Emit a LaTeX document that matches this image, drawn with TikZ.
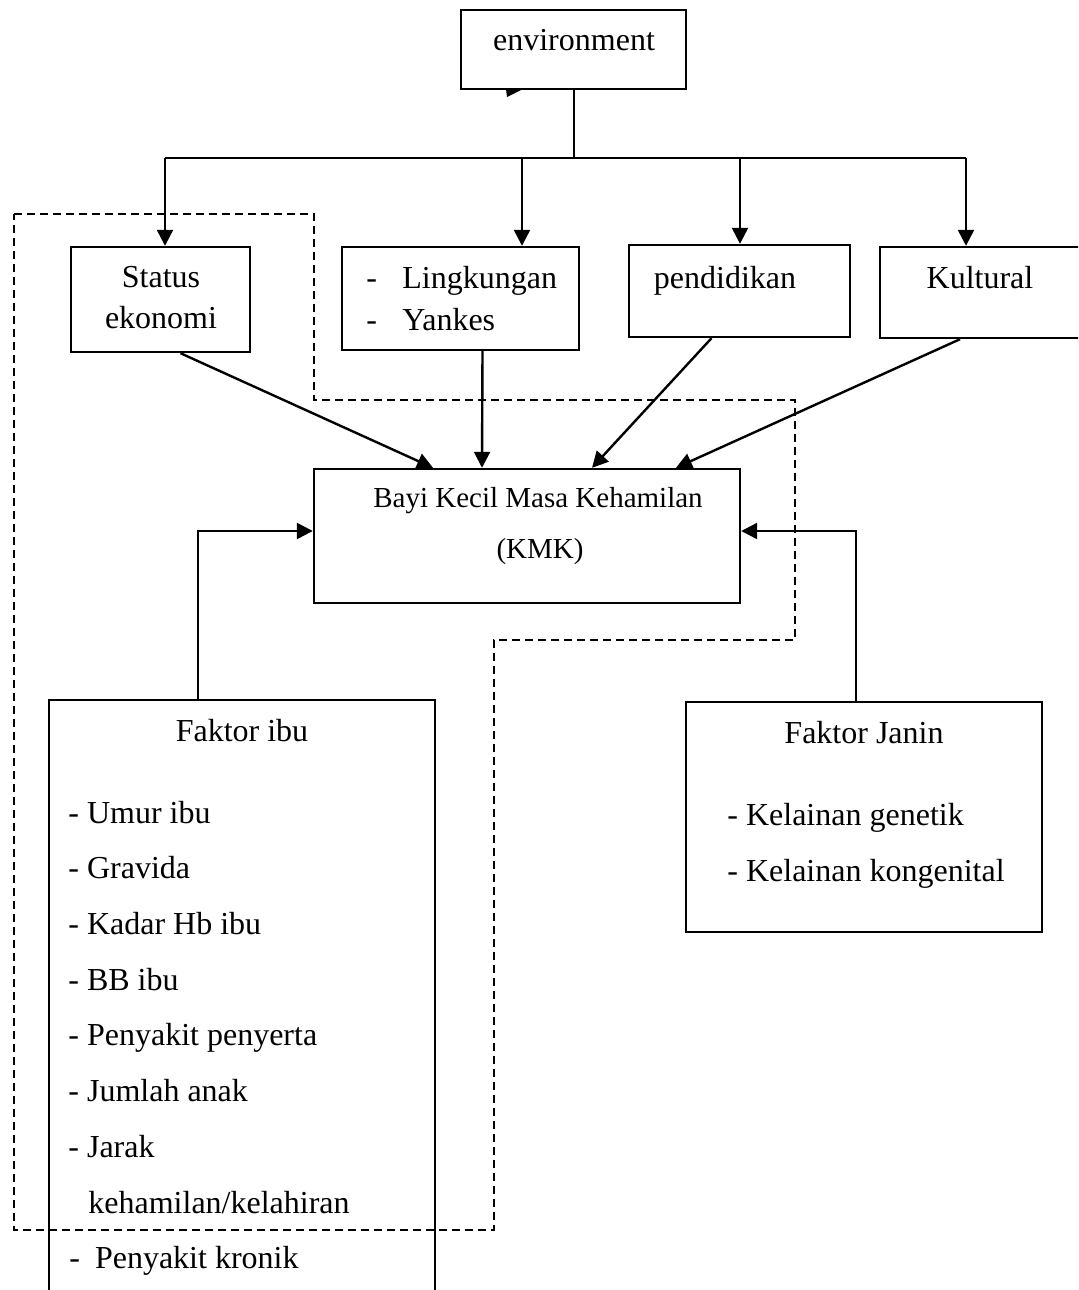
\documentclass[tikz,border=0pt]{standalone}
\usepackage{fontspec}
\setmainfont{Liberation Serif}
\usetikzlibrary{arrows.meta}
\tikzset{
  box/.style={draw, line width=1.2pt, inner sep=0pt},
  txt/.style={inner sep=0pt, font=\fontsize{16pt}{19pt}\selectfont},
  small/.style={inner sep=0pt, font=\fontsize{14.5pt}{17pt}\selectfont},
  arr/.style={line width=1.2pt, -{Triangle[length=8pt,width=8pt]}},
  ln/.style={line width=1.2pt},
  zone/.style={line width=0.8pt, dash pattern=on 4pt off 2.5pt},
}
\begin{document}
\begin{tikzpicture}[x=0.5pt,y=-0.5pt]
	\useasboundingbox (0,0) rectangle (1078,1290);
	\clip (0,0) rectangle (1078,1290);
	% boxes
	\node[box, minimum width=112.5pt, minimum height=39.5pt] (env) at (573.5,49.5) {};
	\node[box, minimum width=89.5pt, minimum height=52.5pt] (stat) at (160.5,299.5) {};
	\node[box, minimum width=118.5pt, minimum height=51.5pt] (ling) at (460.5,298.5) {};
	\node[box, minimum width=110.5pt, minimum height=46pt] (pend) at (739.5,291) {};
	\node[box, minimum width=110pt, minimum height=45.5pt] (kult) at (990,292.5) {};
	\node[box, minimum width=213pt, minimum height=67pt] (kmk) at (527,536) {};
	\node[box, minimum width=193pt, minimum height=310pt] (ibu) at (242,1010) {};
	\node[box, minimum width=178pt, minimum height=115pt] (janin) at (864,817) {};
	% texts
	\node[txt, anchor=base] (envt) at (574,50) {environment};
	\node[txt, anchor=base] (statt) at (161,287) {Status};
	\node[txt, anchor=base] (statt2) at (161,328) {ekonomi};
	\node[txt, anchor=base west] (lingt) at (366,288) {\makebox[18pt][l]{-}Lingkungan};
	\node[txt, anchor=base west] (lingt2) at (366,330) {\makebox[18pt][l]{-}Yankes};
	\node[txt, anchor=base] (pendt) at (725,288) {pendidikan};
	\node[txt, anchor=base] (kultt) at (980,288) {Kultural};
	\node[small, anchor=base] (kmkt) at (538,507) {Bayi Kecil Masa Kehamilan};
	\node[small, anchor=base] (kmkt2) at (540,558) {(KMK)};
	\node[txt, anchor=base] (ibut) at (242,741) {Faktor ibu};
	\foreach \t [count=\i from 0] in {- Umur ibu, - Gravida, - Kadar Hb ibu, - BB ibu,
		- Penyakit penyerta, - Jumlah anak, - Jarak}
		\node[txt, anchor=base west] (ibu\i) at (68,823+55.7*\i) {\t};
	\node[txt, anchor=base west] (ibu7) at (88,1213) {kehamilan/kelahiran};
	\node[txt, anchor=base west] (ibu8) at (69,1268) {- \hspace{3.5pt}Penyakit kronik};
	\node[txt, anchor=base] (janint) at (864,743) {Faktor Janin};
	\node[txt, anchor=base west] (janin0) at (727,825) {- Kelainan genetik};
	\node[txt, anchor=base west] (janin1) at (727,881) {- Kelainan kongenital};
	% bus from environment
	\coordinate (bus) at (574,158);
	\coordinate (b1) at (165,158);
	\coordinate (b2) at (522,158);
	\coordinate (b3) at (740,158);
	\coordinate (b4) at (966,158);
	\draw[ln] (env.south -| bus) -- (bus);
	\draw[ln] (b1) -- (b4);
	\draw[arr] (b1) -- (b1 |- stat.north);
	\draw[arr] (b2) -- (b2 |- ling.north);
	\draw[arr] (b3) -- (b3 |- pend.north);
	\draw[arr] (b4) -- (b4 |- kult.north);
	\fill (506,89) -- (523,89) -- (507,97) -- cycle;
	% into KMK
	\draw[arr] ([xshift=10pt]stat.south) -- ([xshift=-47pt]kmk.north);
	\draw[arr] ([xshift=11pt]ling.south) -- ([xshift=-22.5pt]kmk.north);
	\draw[arr] ([xshift=-14pt]pend.south) -- ([xshift=32.5pt]kmk.north);
	\draw[arr] ([xshift=-15pt]kult.south) -- ([xshift=74.5pt]kmk.north);
	\draw[arr] (ibu.north -| 198,0) |- ([yshift=2.5pt]kmk.west);
	\draw[arr] (janin.north -| 856,0) |- ([yshift=2.5pt]kmk.east);
	% dashed zone
	\draw[zone] (14,214) -- (314,214) -- (314,400) -- (795,400) -- (795,640)
		-- (494,640) -- (494,1230) -- (14,1230) -- cycle;
\end{tikzpicture}
\end{document}
